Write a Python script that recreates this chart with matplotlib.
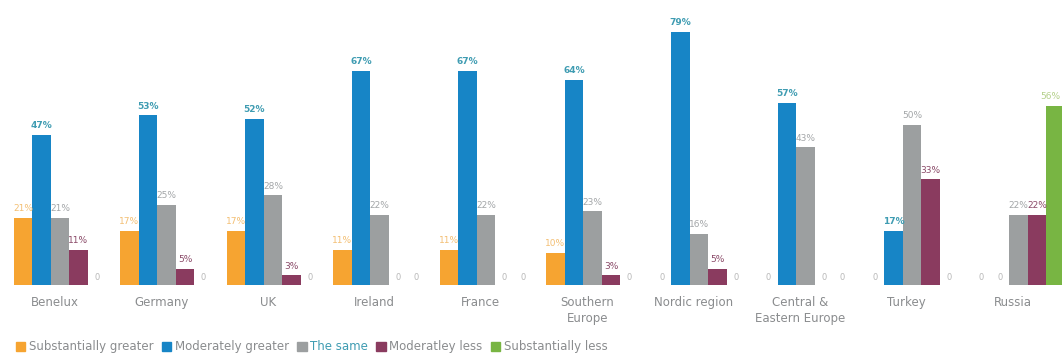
import numpy as np
import matplotlib.pyplot as plt

regioes = ["Benelux", "Germany", "UK", "Ireland", "France", "Southern\nEurope",
           "Nordic region", "Central &\nEastern Europe", "Turkey", "Russia"]

series_nomes = ["Substantially greater", "Moderately greater", "The same",
                "Moderatley less", "Substantially less"]

subst_maior = [21, 17, 17, 11, 11, 10, 0, 0, 0, 0]
mod_maior = [47, 53, 52, 67, 67, 64, 79, 57, 17, 0]
igual = [21, 25, 28, 22, 22, 23, 16, 43, 50, 22]
mod_menor = [11, 5, 3, 0, 0, 3, 5, 0, 33, 22]
subst_menor = [0, 0, 0, 0, 0, 0, 0, 0, 0, 56]

valores = [subst_maior, mod_maior, igual, mod_menor, subst_menor]
cores = ["#f6a431", "#1785c6", "#9c9fa0", "#8a3b5f", "#78b543"]
cores_rotulo = ["#f3bf73", "#3f9cb2", "#a3a6a8", "#8a4a68", "#b4d08a"]

fig = plt.figure(figsize=(10.62, 3.64), dpi=100)
ax = fig.add_axes([0, 0.217, 1, 0.774])

x = np.arange(len(regioes))
largura = 0.174
x_min, x_max = -0.563, 9.408

for k, (serie, cor, cor_txt) in enumerate(zip(valores, cores, cores_rotulo)):
    pos = x + (k - 2) * largura
    ax.bar(pos, serie, width=largura, color=cor, edgecolor="none")
    for xp, v in zip(pos, serie):
        if v == 0:
            ax.text(xp, 1, "0", ha="center", va="bottom", fontsize=6,
                    color="#b8b8b8")
        else:
            # o último rótulo fica junto à borda direita
            xt = min(xp, x_max - 0.11)
            ax.text(xt, v + 1.5, f"{v}%", ha="center", va="bottom",
                    fontsize=6.5, color=cor_txt,
                    fontweight="bold" if k == 1 else "normal")

ax.set_xlim(x_min, x_max)
ax.set_ylim(0, 88)
ax.axis("off")

# nomes das regiões abaixo de cada grupo
for xi, nome in zip(x, regioes):
    ax.text(xi - 0.05, -3.5, nome, ha="center", va="top", fontsize=8.5,
            color="#8a8c8e", linespacing=1.3)

# legenda manual na base
handles = [plt.Rectangle((0, 0), 1, 1, color=c) for c in cores]
leg = fig.legend(handles, series_nomes, loc="lower left",
                 bbox_to_anchor=(0.005, 0.0), ncol=5, frameon=False,
                 fontsize=8.5, handlelength=0.8, handleheight=0.8,
                 handletextpad=0.3, columnspacing=0.7)
for t in leg.get_texts():
    t.set_color("#8a8c8e")
leg.get_texts()[2].set_color("#3f9cb2")

fig.savefig("out.png", dpi=100)
